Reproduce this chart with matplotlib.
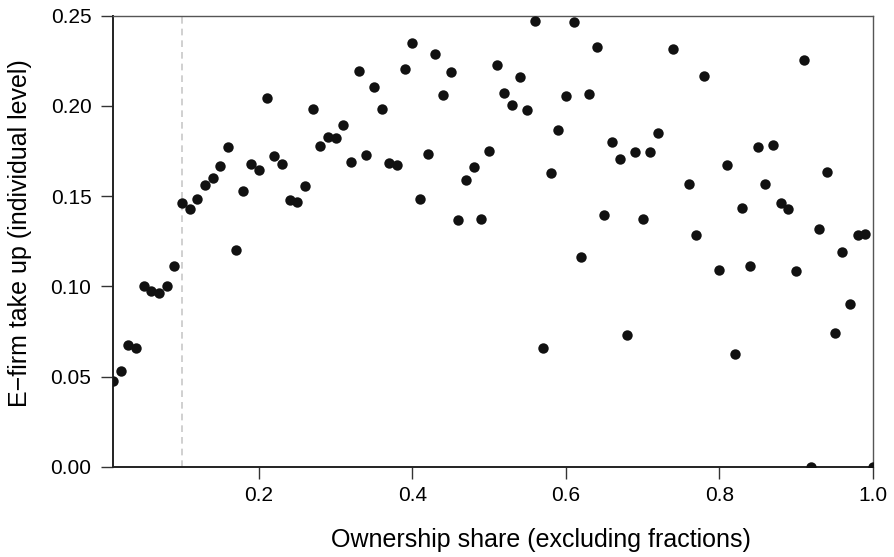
import numpy as np
import matplotlib.pyplot as plt

plt.rcParams['font.family'] = ['Liberation Sans', 'DejaVu Sans']

# ownership share 0.01 ... 1.00 (nan where no point is drawn)
share = np.round(np.arange(1, 101) / 100, 2)
takeup = [
    0.0476, 0.0533, 0.0672, 0.0656, 0.1000, 0.0974, 0.0965, 0.1004, 0.1115, 0.1463,
    0.1428, 0.1485, 0.1561, 0.1602, 0.1665, 0.1774, 0.1200, 0.1530, 0.1680, 0.1644,
    0.2046, 0.1722, 0.1676, 0.1480, 0.1470, 0.1557, 0.1981, 0.1778, 0.1830, 0.1820,
    0.1893, 0.1690, 0.2196, 0.1730, 0.2107, 0.1983, 0.1685, 0.1672, 0.2206, 0.2346,
    0.1483, 0.1735, 0.2289, 0.2059, 0.2187, 0.1370, 0.1589, 0.1661, 0.1372, 0.1750,
    0.2224, 0.2074, 0.2004, 0.2163, 0.1976, 0.2469, 0.0657, 0.1626, 0.1869, 0.2054,
    0.2463, 0.1163, 0.2065, 0.2326, 0.1393, 0.1798, 0.1706, 0.0730, 0.1744, 0.1374,
    0.1744, 0.1848, np.nan, 0.2315, np.nan, 0.1567, 0.1285, 0.2167, np.nan, 0.1089,
    0.1672, 0.0626, 0.1433, 0.1113, 0.1770, 0.1567, 0.1783, 0.1463, 0.1431, 0.1083,
    0.2257, 0.0000, 0.1319, 0.1633, 0.0739, 0.1190, 0.0900, 0.1285, 0.1290, 0.0000,
]
cutoff = 0.1

fig = plt.figure(figsize=(8.94, 5.57), dpi=100)
ax = fig.add_axes([0.1264, 0.1621, 0.85, 0.8097])

ax.axvline(cutoff, color='#c8c8c8', lw=1.2, ls=(0, (4, 3)), zorder=1)
ax.plot(share, takeup, 'o', color='#111111', ms=7.5, mew=0, zorder=3)

ax.set_xlim(0.01, 1.0)
ax.set_ylim(0, 0.25)
ax.set_xticks([0.2, 0.4, 0.6, 0.8, 1.0])
ax.set_xticklabels(['0.2', '0.4', '0.6', '0.8', '1.0'])
ax.set_yticks([0, 0.05, 0.10, 0.15, 0.20, 0.25])
ax.set_yticklabels(['0.00', '0.05', '0.10', '0.15', '0.20', '0.25'])

ax.tick_params(direction='out', length=8.5, width=1, color='#333333',
               labelsize=15, pad=7)
ax.tick_params(axis='x', pad=5.5)
for side in ['left', 'bottom']:
    ax.spines[side].set_linewidth(1.4)
    ax.spines[side].set_color('#222222')
for side in ['top', 'right']:
    ax.spines[side].set_linewidth(1.0)
    ax.spines[side].set_color('#555555')

ax.set_xlabel('Ownership share (excluding fractions)', fontsize=18)
ax.set_ylabel('E\u2212firm take up (individual level)', fontsize=18)
ax.xaxis.set_label_coords(0.563, -0.135)
ax.yaxis.set_label_coords(-0.106, 0.518)

fig.savefig('out.png', dpi=100)
